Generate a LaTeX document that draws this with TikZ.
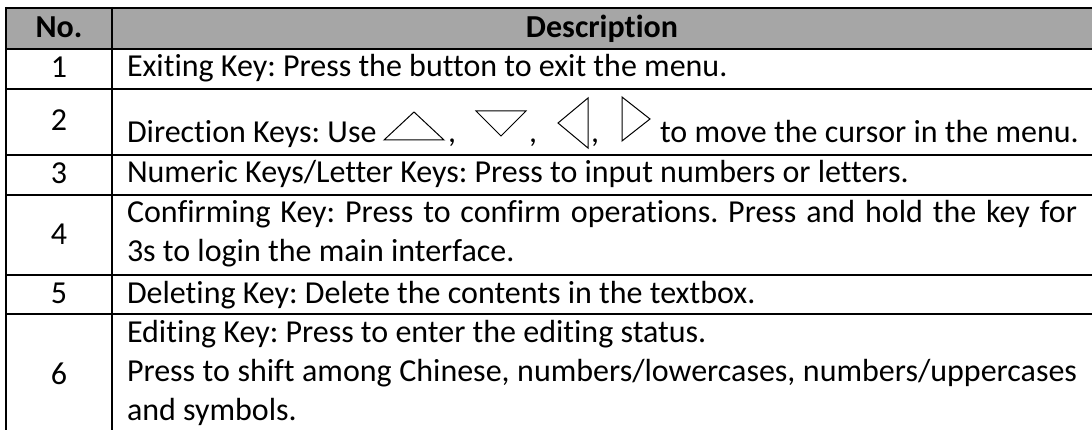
\documentclass[tikz,border=0pt]{standalone}
\usepackage{fontspec}
\setmainfont{Carlito}[Ligatures=NoCommon]
\definecolor{hdrgray}{HTML}{A6A6A6}
\newcommand\tabfont{\fontsize{32}{39}\selectfont\frenchspacing}
\begin{document}
\frenchspacing
\begin{tikzpicture}[x=1pt,y=-1pt,font=\tabfont,
  rule/.style={line width=2pt},
  txt/.style={anchor=base west,inner sep=0pt,outer sep=0pt},
  num/.style={anchor=base,inner sep=0pt,outer sep=0pt},
  tri/.style={draw,line width=1pt,line join=miter}]
\useasboundingbox (0,0) rectangle (1092,430);
% header background
\fill[hdrgray] (6,8) rectangle (1096,49);
% horizontal rules
\foreach \yy in {8,49,89,155,195,275,314}
  \draw[rule] (5,\yy) -- (1096,\yy);
% vertical rules
\draw[rule] (6,7) -- (6,434);
\draw[rule] (112,7) -- (112,434);
% header
\node[num] (hno) at (59,38) {\bfseries No.};
\node[num] (hdesc) at (602,38) {\bfseries Description};
% numbers
\node[num] (n1) at (59,78) {1};
\node[num] (n2) at (59,131) {2};
\node[num] (n3) at (59,184) {3};
\node[num] (n4) at (59,245) {4};
\node[num] (n5) at (59,303) {5};
\node[num] (n6) at (59,384) {6};
% descriptions
\node[txt] (d1) at (127,77) {Exiting Key: Press the button to exit the menu.};
\node[txt] (d2a) at (127,143) {Direction Keys: Use};
\draw[tri] (384,140) -- (414,112) -- (444,140) -- cycle;
\node[txt] (c1) at (448,143) {,};
\draw[tri] (476,111) -- (526,111) -- (501,136) -- cycle;
\node[txt] (c2) at (529,143) {,};
\draw[tri] (588,98) -- (558,123) -- (588,148) -- cycle;
\node[txt] (c3) at (591,143) {,};
\draw[tri] (622,97) -- (650,119) -- (622,141) -- cycle;
\node[txt] (d2b) at (660,143) {to move the cursor in the menu.};
\node[txt] (d3) at (127,183) {Numeric Keys/Letter Keys: Press to input numbers or letters.};
\node[txt] (d4a) at (127,223) {\hbox to 950pt{Confirming Key: Press to confirm operations. Press and hold the key for}};
\node[txt] (d4b) at (127,262) {3s to login the main interface.};
\node[txt] (d5) at (127,303) {Deleting Key: Delete the contents in the textbox.};
\node[txt] (d6a) at (127,342) {Editing Key: Press to enter the editing status.};
\node[txt] (d6b) at (127,381) {\hbox to 950pt{Press to shift among Chinese, numbers/lowercases, numbers/uppercases}};
\node[txt] (d6c) at (127,420) {and symbols.};
\end{tikzpicture}
\end{document}
